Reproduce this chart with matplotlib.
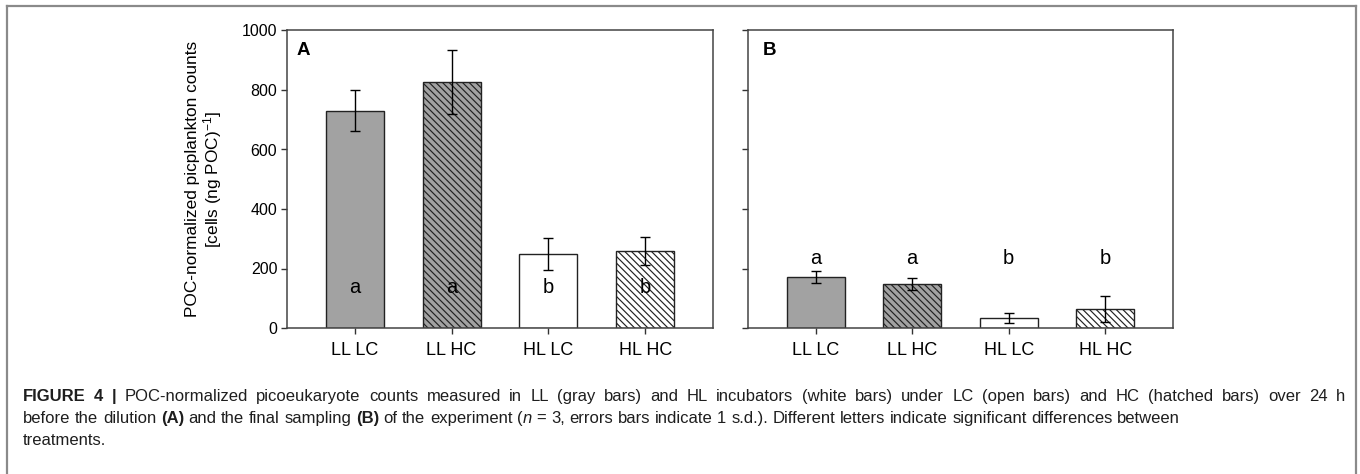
import re
import matplotlib
matplotlib.use("Agg")
import matplotlib.pyplot as plt
from matplotlib.lines import Line2D
import numpy as np

plt.rcParams['font.family'] = ['Liberation Sans', 'DejaVu Sans']
plt.rcParams['mathtext.fontset'] = 'custom'
plt.rcParams['mathtext.rm'] = 'Liberation Sans'
plt.rcParams['mathtext.it'] = 'Liberation Sans:italic'
plt.rcParams['hatch.linewidth'] = 0.85

# data
cats = ["LL LC", "LL HC", "HL LC", "HL HC"]
mean_a = [731, 826, 249, 259]
sd_a = [70, 108, 55, 48]
mean_b = [170, 149, 35, 64]
sd_b = [20, 20, 17, 43]
letters_a = ["a", "a", "b", "b"]
letters_b = ["a", "a", "b", "b"]
yticks = [0, 200, 400, 600, 800, 1000]

fills = ["#a2a2a2", "#a2a2a2", "white", "white"]
hatches = ["", "\\" * 5, "", "\\" * 5]

caption = [
    "**FIGURE 4 |** POC-normalized picoeukaryote counts measured in LL (gray bars) and HL incubators "
    "(white bars) under LC (open bars) and HC (hatched bars) over 24 h",
    "before the dilution **(A)** and the final sampling **(B)** of the experiment (__n__ = 3, errors bars "
    "indicate 1 s.d.). Different letters indicate significant differences between",
    "treatments.",
]
justify = [True, False, False]

fig = plt.figure(figsize=(13.6, 4.74), dpi=100)
ax = fig.add_axes([287 / 1360, 146 / 474, 426 / 1360, 297.5 / 474])
bx = fig.add_axes([748 / 1360, 146 / 474, 425 / 1360, 297.5 / 474])

x = np.arange(1, len(cats) + 1)


def draw_panel(axis, means, sds, letters, letter_y, tag, tag_x):
    bars = axis.bar(x, means, width=0.6, color=fills, edgecolor="#222222", linewidth=1.0, zorder=2)
    for b, h in zip(bars, hatches):
        b.set_hatch(h)
    axis.errorbar(x, means, yerr=sds, fmt="none", ecolor="black", elinewidth=1.0,
                  capsize=3.8, capthick=1.0, zorder=3)
    for xi, lt in zip(x, letters):
        axis.text(xi, letter_y, lt, ha="center", va="center", fontsize=14.5, zorder=4)
    axis.set_xlim(0.3, 4.7)
    axis.set_ylim(0, 1000)
    axis.set_xticks(x)
    axis.set_xticklabels(cats, fontsize=13)
    axis.set_yticks(yticks)
    axis.tick_params(axis="x", direction="out", length=4, width=1, pad=6, color="#333333")
    axis.tick_params(axis="y", direction="out", length=4, width=1, pad=3, color="#333333", labelsize=11.5)
    for sp in axis.spines.values():
        sp.set_color("#444444")
        sp.set_linewidth(1.1)
    axis.text(tag_x, 0.962, tag, transform=axis.transAxes, ha="left", va="top",
              fontsize=13.5, fontweight="bold")


draw_panel(ax, mean_a, sd_a, letters_a, 135, "A", 0.022)
draw_panel(bx, mean_b, sd_b, letters_b, 235, "B", 0.035)
bx.set_yticklabels([])

ax.set_ylabel("POC-normalized picplankton counts\n[cells (ng POC)$^{-1}$]", fontsize=12.4,
              linespacing=1.1)
ax.yaxis.set_label_coords(-0.147, 0.5)


# caption, placed word by word so the first line can be justified
def words_of(line):
    words = [[]]
    for tok in re.split(r"(\*\*.+?\*\*|__.+?__)", line):
        if not tok:
            continue
        if tok.startswith("**"):
            style, body = "bold", tok[2:-2]
        elif tok.startswith("__"):
            style, body = "italic", tok[2:-2]
        else:
            style, body = "normal", tok
        for k, p in enumerate(body.split(" ")):
            if k > 0:
                words.append([])
            if p:
                words[-1].append((p, style))
    return [w for w in words if w]


renderer = fig.canvas.get_renderer()
cap_kw = dict(fontsize=12, color="#1e1e1e", va="baseline", ha="left")


def run_text(xpix, ypix, s, style):
    return fig.text(xpix / 1360, 1 - ypix / 474, s,
                    fontweight="bold" if style == "bold" else "normal",
                    fontstyle="italic" if style == "italic" else "normal", **cap_kw)


def width_of(s, style):
    t = run_text(0, 0, s, style)
    w = t.get_window_extent(renderer).width
    t.remove()
    return w


space_w = width_of("x x", "normal") - width_of("xx", "normal")
x0, x1 = 23, 1345
for i, (line, just) in enumerate(zip(caption, justify)):
    ypix = 401 + 22 * i
    words = words_of(line)
    widths = [[width_of(s, st) for s, st in w] for w in words]
    total = sum(sum(w) for w in widths)
    gap = (x1 - x0 - total) / (len(words) - 1) if just else space_w
    xp = x0
    for w, ws in zip(words, widths):
        for (s, st), wd in zip(w, ws):
            run_text(xp, ypix, s, st)
            xp += wd
        xp += gap

# outer frame
frame_kw = dict(color="#8a8a8a", linewidth=1.6, transform=fig.transFigure)
fig.add_artist(Line2D([7 / 1360, 1355.5 / 1360], [1 - 6 / 474, 1 - 6 / 474], **frame_kw))
fig.add_artist(Line2D([7 / 1360, 7 / 1360], [0, 1 - 6 / 474], **frame_kw))
fig.add_artist(Line2D([1355.5 / 1360, 1355.5 / 1360], [0, 1 - 6 / 474], **frame_kw))

fig.savefig("out.png", dpi=100)
